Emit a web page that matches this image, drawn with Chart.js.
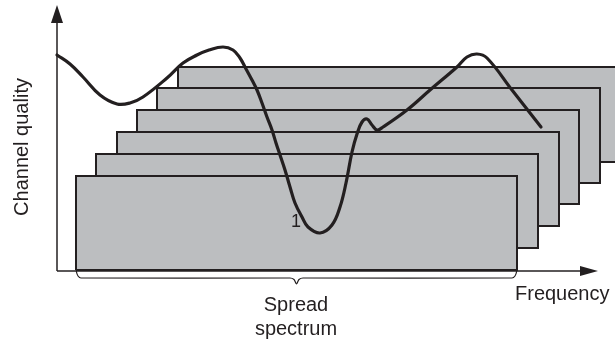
<!DOCTYPE html>
<html>
<head>
<meta charset="utf-8">
<script src="https://cdn.jsdelivr.net/npm/chart.js@4.4.1/dist/chart.umd.min.js"></script>
<style>
html,body{margin:0;padding:0;background:#fff;}
#wrap{width:615px;height:342px;}
</style>
</head>
<body>
<div id="wrap"><canvas id="c" width="615" height="342"></canvas></div>
<script>
// Units: frequency (x) and channel quality (y), origin at the axes' crossing.
// Channel quality curve
const curveFreq = [0,13,26,43,60,73,86,110,126,140,152,166,176,183,188,195,200,205,210,215,219,223,228,233,238,245,251,263,275,283,289,295,300,305,310,315,320,326,350,373,400,410,420,430,455,484];
const curveQuality = [216,207,194,176,167,168,174,193,208,216,221,224,221,213,204,191,181,168,154,141,128,116,101,84,68,54,44,38,46,64,88,119,137,149,152,146,141,144,161,181,204,214,217,213,181,144];

// Spread-spectrum channels (front to back)
const chanStart  = [19, 39, 60, 80, 100, 121];
const chanEnd    = [460, 481, 502, 522, 543, 563];
const chanTop    = [95, 117, 139, 161, 183, 204];
const chanBottom = [1, 23, 45, 67, 88, 109];

// Axes
const axisFreqEnd = 541;
const axisQualEnd = 266;

// Brace under the front channel
const braceX = [19,19.5,21,24,233,237,239.5,242,246,455,458,459.5,460];
const braceY = [6,-1,-5,-7,-7,-8.5,-13,-8.5,-7,-7,-5,-1,6];

// Text
const textLabels = ['1','Spread','spectrum','Frequency','Channel quality'];
const textX = [239, 239, 239, 458, -35];
const textY = [49, -40, -64, -29, 124];

const INK = '#231f20';
const GRAY = '#bcbec0';

const pts = (xs, ys) => xs.map((x, i) => ({x, y: ys[i]}));
const datasets = [];

// curve on top
datasets.push({data: pts(curveFreq, curveQuality), borderColor: INK, borderWidth: 3.2,
  tension: 0.4, pointRadius: 0, fill: false, borderJoinStyle: 'round', borderCapStyle: 'round'});

for (let i = 0; i < chanStart.length; i++) {
  const l = chanStart[i], r = chanEnd[i], t = chanTop[i], b = chanBottom[i];
  datasets.push({data: [{x:l,y:b},{x:l,y:t},{x:r,y:t},{x:r,y:b},{x:l,y:b}],
    borderColor: INK, borderWidth: 2, pointRadius: 0, fill: false, tension: 0});
  datasets.push({data: [{x:l,y:t},{x:r,y:t}], borderWidth: 0, borderColor: 'rgba(0,0,0,0)',
    backgroundColor: GRAY, pointRadius: 0, fill: {value: b}});
}

// axes
datasets.push({data: [{x:0,y:0},{x:axisFreqEnd-6,y:0}], borderColor: INK, borderWidth: 1.5, pointRadius: 0, fill: false});
datasets.push({data: [{x:0,y:0},{x:0,y:axisQualEnd-6}], borderColor: INK, borderWidth: 1.5, pointRadius: 0, fill: false});
// arrowheads
datasets.push({data: [{x:-6,y:axisQualEnd-18},{x:0,y:axisQualEnd},{x:6,y:axisQualEnd-18}], borderWidth: 0,
  borderColor: 'rgba(0,0,0,0)', backgroundColor: INK, pointRadius: 0, fill: {value: axisQualEnd-18}});
datasets.push({data: [{x:axisFreqEnd-18,y:5},{x:axisFreqEnd,y:0}], borderWidth: 0, borderColor: 'rgba(0,0,0,0)',
  backgroundColor: INK, pointRadius: 0, fill: '+1'});
datasets.push({data: [{x:axisFreqEnd-18,y:-5},{x:axisFreqEnd,y:0}], borderWidth: 0, borderColor: 'rgba(0,0,0,0)',
  pointRadius: 0, fill: false});
// brace
datasets.push({data: pts(braceX, braceY), borderColor: INK, borderWidth: 1.2, pointRadius: 0, fill: false, tension: 0.3});

const textPlugin = {
  id: 'texts',
  afterDatasetsDraw(chart) {
    const ctx = chart.ctx, xs = chart.scales.x, ys = chart.scales.y;
    ctx.save();
    ctx.fillStyle = INK;
    const specs = [
      {font: '18px "Liberation Sans", Arial', align: 'center', base: 'middle', rot: 0},
      {font: '20px "Liberation Sans", Arial', align: 'center', base: 'alphabetic', rot: 0},
      {font: '20px "Liberation Sans", Arial', align: 'center', base: 'alphabetic', rot: 0},
      {font: '20px "Liberation Sans", Arial', align: 'left', base: 'alphabetic', rot: 0},
      {font: '20px "Liberation Sans", Arial', align: 'center', base: 'middle', rot: -Math.PI/2}
    ];
    textLabels.forEach((t, i) => {
      const s = specs[i];
      ctx.save();
      ctx.translate(xs.getPixelForValue(textX[i]), ys.getPixelForValue(textY[i]));
      ctx.rotate(s.rot);
      ctx.font = s.font; ctx.textAlign = s.align; ctx.textBaseline = s.base;
      ctx.fillText(t, 0, 0);
      ctx.restore();
    });
    ctx.restore();
  }
};

new Chart(document.getElementById('c'), {
  type: 'scatter',
  data: {datasets: datasets.map(d => Object.assign({showLine: true}, d))},
  options: {
    responsive: false, animation: false, devicePixelRatio: 1,
    layout: {padding: 0},
    plugins: {legend: {display: false}, tooltip: {enabled: false}, filler: {propagate: false}},
    scales: {
      x: {type: 'linear', min: -57, max: 558, display: false},
      y: {type: 'linear', min: -71, max: 271, display: false}
    }
  },
  plugins: [textPlugin]
});
</script>
</body>
</html>
